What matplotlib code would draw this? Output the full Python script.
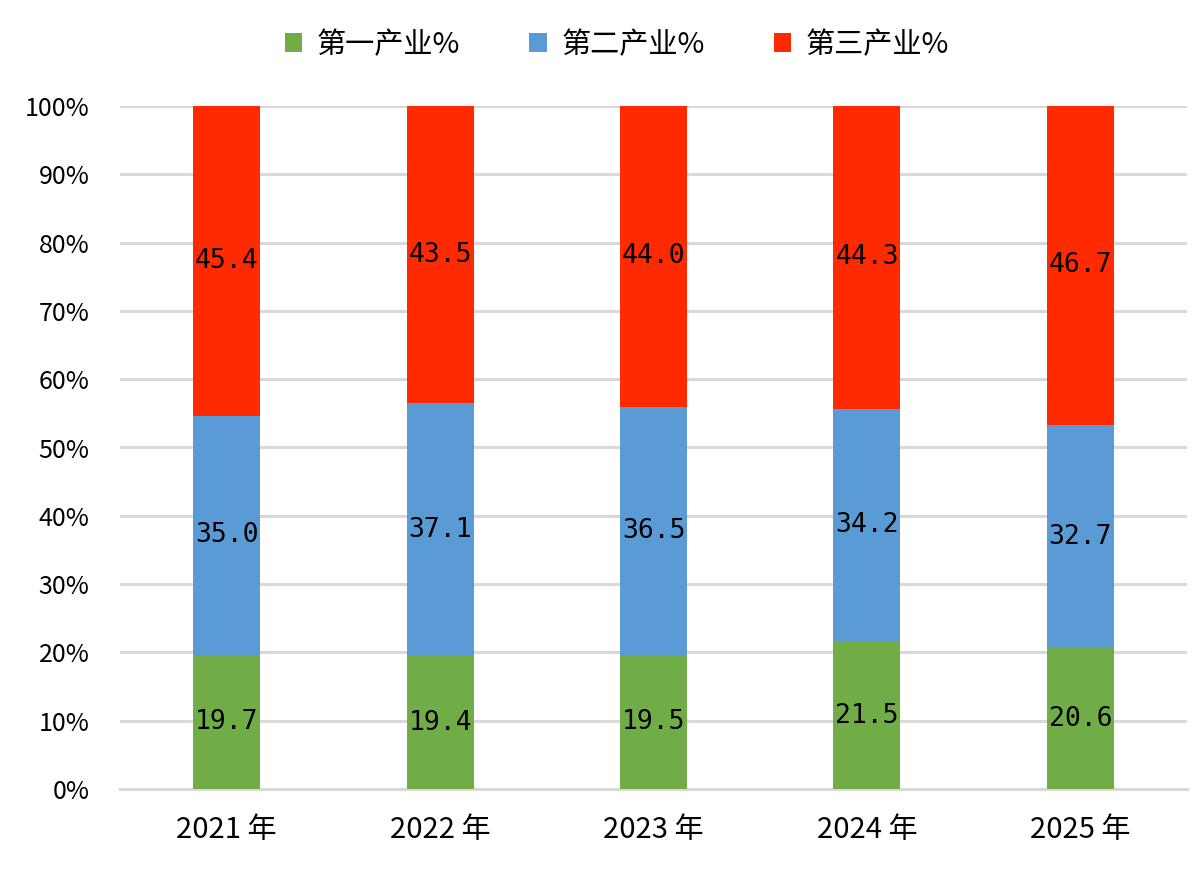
import matplotlib
matplotlib.use("Agg")
import matplotlib.pyplot as plt
import numpy as np

plt.rcParams['font.family'] = ['Noto Sans CJK SC', 'DejaVu Sans']

years = ["2021 年", "2022 年", "2023 年", "2024 年", "2025 年"]
primary = [19.7, 19.4, 19.5, 21.5, 20.6]
secondary = [35.0, 37.1, 36.5, 34.2, 32.7]
tertiary = [45.4, 43.5, 44.0, 44.3, 46.7]
series_names = ["第一产业%", "第二产业%", "第三产业%"]
colors = ["#70AD47", "#5B9BD5", "#FF2A00"]

data = np.array([primary, secondary, tertiary])
totals = data.sum(axis=0)
shares = data / totals * 100

fig = plt.figure(figsize=(11.94, 8.88), dpi=100)
ax = fig.add_axes([120 / 1194, 99 / 888, 1067 / 1194, 683 / 888])

x = np.arange(len(years))
bottom = np.zeros(len(years))
handles = []
for i in range(3):
    bars = ax.bar(x, shares[i], bottom=bottom, width=0.314, color=colors[i],
                  label=series_names[i], zorder=3)
    handles.append(bars)
    for xi, b, h, v in zip(x, bottom, shares[i], data[i]):
        ax.text(xi, b + h / 2, "%.1f" % v, ha="center", va="center",
                fontsize=19, family="DejaVu Sans Mono", color="black", zorder=4)
    bottom += shares[i]

ax.set_xlim(-0.5, len(years) - 0.5)
ax.set_ylim(0, 100)
ax.set_yticks(np.arange(0, 101, 10))
ax.set_yticklabels(["%d%%" % v for v in range(0, 101, 10)], fontsize=18)
ax.set_xticks(x)
ax.set_xticklabels(years, fontsize=21)
ax.tick_params(axis="y", length=0, pad=22)
ax.tick_params(axis="x", length=0, pad=19)
ax.yaxis.grid(True, color="#D9D9D9", linewidth=2.2, zorder=0)
for s in ["top", "right", "left"]:
    ax.spines[s].set_visible(False)
ax.spines["bottom"].set_color("#D9D9D9")
ax.spines["bottom"].set_linewidth(2.2)

leg = fig.legend(handles=handles, labels=series_names, loc="center",
                 bbox_to_anchor=(617 / 1194, 1 - 45 / 888), ncol=3, frameon=False,
                 fontsize=21, handlelength=0.6, handleheight=0.6,
                 handletextpad=0.5, columnspacing=2.36)

fig.savefig("out.png", dpi=100)
